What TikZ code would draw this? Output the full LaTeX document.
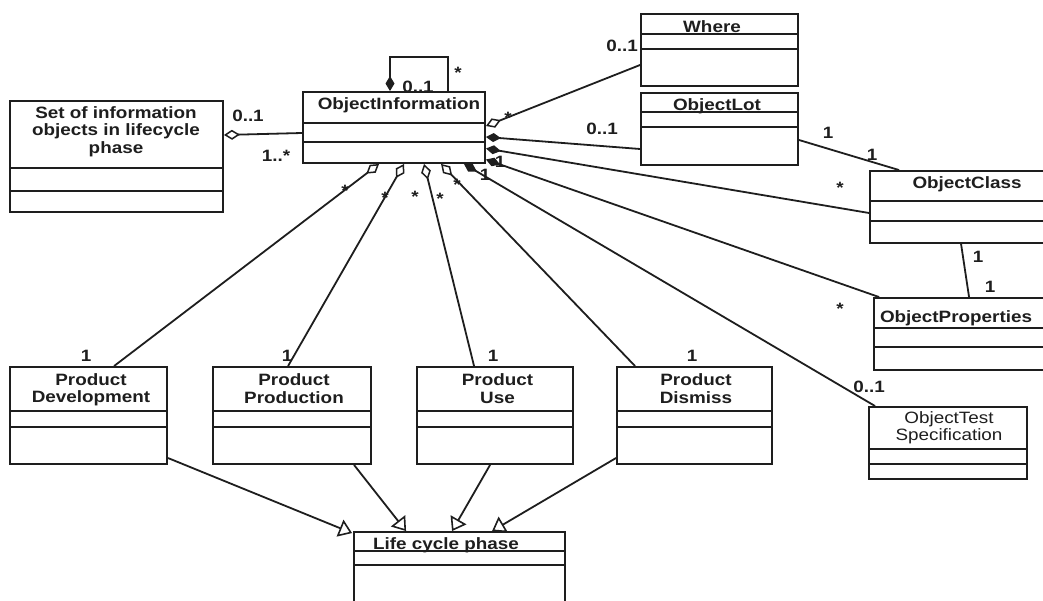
\documentclass[tikz,border=0pt]{standalone}
\usepackage{fontspec}
\setmainfont{Liberation Sans}[FakeStretch=1.15]
\usetikzlibrary{arrows.meta,fit}
\definecolor{ink}{HTML}{1E1E1E}
\newcommand\umlcls[7]{%
  \node[umlbox, fit={(#2,#3)(#4,#5)}] (#1) {};
  \draw[cline] (#2,#6) -- (#4,#6) (#2,#7) -- (#4,#7);
}
\begin{document}
\begin{tikzpicture}[x=1pt,y=-1pt,
  font=\fontsize{16.4}{17.5}\selectfont\bfseries,
  umlbox/.style={draw=ink, line width=1.9pt, inner sep=0pt},
  cline/.style={draw=ink, line width=1.5pt},
  conn/.style={draw=ink, line width=1.8pt},
  lbl/.style={inner sep=0pt, text height=12pt, text depth=0pt, text=ink},
  ttl/.style={inner sep=0pt, align=center, text=ink},
  agg/.style={conn, {Diamond[open, length=16pt, width=10pt, line width=1.5pt]}-},
  comp/.style={conn, {Diamond[length=15pt, width=9pt]}-},
  gen/.style={conn, -{Triangle[open, length=13pt, width=18pt, line width=1.6pt]}}]
\useasboundingbox (0,0) rectangle (1043,601);
\clip (0,0) rectangle (1043,601);
\fill[white] (0,0) rectangle (1043,601);

% classes
\umlcls{oi}{303}{92}{485}{163}{123}{142}
\umlcls{set}{10}{101}{223}{212}{168}{191}
\umlcls{where}{641}{14}{798}{86}{34}{49}
\umlcls{lot}{641}{93}{798}{165}{112}{127}
\umlcls{cls}{870}{171}{1060}{243}{201}{221}
\umlcls{props}{874}{298}{1060}{370}{328}{347}
\umlcls{test}{869}{407}{1027}{479}{449}{464}
\umlcls{dev}{10}{367}{167}{464}{411}{427}
\umlcls{prod}{213}{367}{371}{464}{411}{427}
\umlcls{use}{417}{367}{573}{464}{411}{427}
\umlcls{dis}{617}{367}{772}{464}{411}{427}
\umlcls{lcp}{354}{532}{565}{640}{551}{565}

% titles
\node[lbl] (t-oi) at (399,104) {ObjectInformation};
\node[ttl] (t-set) at (116,131.5) {Set of information\\objects in lifecycle\\phase};
\node[lbl] (t-where) at (712,27) {Where};
\node[lbl] (t-lot) at (717,105) {ObjectLot};
\node[lbl] (t-cls) at (967,183) {ObjectClass};
\node[lbl] (t-props) at (956,317) {ObjectProperties};
\node[ttl, font=\fontsize{16.4}{17.5}\selectfont\mdseries] (t-test) at (949,428) {ObjectTest\\Specification};
\node[ttl] (t-dev) at (91,390) {Product\\Development};
\node[ttl] (t-prod) at (294,388.5) {Product\\Production};
\node[ttl] (t-use) at (497.5,388.5) {Product\\Use};
\node[ttl] (t-dis) at (696,388.5) {Product\\Dismiss};
\node[lbl] (t-lcp) at (446,543) {Life cycle phase};

% associations
\draw[agg] ([yshift=21.5pt]set.east) -- ([yshift=-5.5pt]oi.west);
\draw[comp] ([xshift=-4pt]oi.north) -- ++(0,-34) -| ([xshift=54pt]oi.north);
\draw[agg] ([yshift=1.5pt]oi.east) -- ([yshift=-15pt]where.west);
\draw[comp] ([yshift=-9.5pt]oi.east) -- ([yshift=-20pt]lot.west);
\draw[comp] ([yshift=-21pt]oi.east) -- ([yshift=-6pt]cls.west);
\draw[comp] ([yshift=-32pt]oi.east) -- ([xshift=6pt]props.north west);
\draw[comp] ([xshift=-22pt]oi.south east) -- ([xshift=7pt]test.north west);
\draw[conn] ([yshift=-11pt]lot.east) -- ([xshift=30pt]cls.north west);
\draw[conn] ([xshift=92pt]cls.south west) -- ([xshift=96pt]props.north west);
\draw[agg] ([xshift=77pt]oi.south west) -- ([xshift=105pt]dev.north west);
\draw[agg] ([xshift=102pt]oi.south west) -- ([xshift=76pt]prod.north west);
\draw[agg] ([xshift=122pt]oi.south west) -- ([xshift=58pt]use.north west);
\draw[agg] ([xshift=139pt]oi.south west) -- ([xshift=19pt]dis.north west);

% generalizations
\draw[gen] ([yshift=-42.5pt]dev.east) -- ([xshift=-1pt,yshift=-2pt]lcp.north west);
\draw[gen] ([xshift=142pt]prod.south west) -- ([xshift=53pt]lcp.north west);
\draw[gen] ([xshift=74pt]use.south west) -- ([xshift=99pt]lcp.north west);
\draw[gen] ([yshift=-42.5pt]dis.west) -- ([xshift=139pt]lcp.north west);

% multiplicities
\node[lbl] (m1) at (248,116) {0..1};
\node[lbl] (m2) at (276,156) {1..*};
\node[lbl] (m3) at (418,87) {0..1};
\node[lbl] (m4) at (458,73) {*};
\node[lbl] (m5) at (508,118) {*};
\node[lbl] (m6) at (622,46) {0..1};
\node[lbl] (m7) at (602,129) {0..1};
\node[lbl] (m8) at (828,133) {1};
\node[lbl] (m9) at (872,155) {1};
\node[lbl] (m10) at (840,188) {*};
\node[lbl] (m11) at (978,257) {1};
\node[lbl] (m12) at (990,287) {1};
\node[lbl] (m13) at (840,308) {*};
\node[lbl] (m14) at (869,386) {0..1};
\node[lbl] (m15) at (500,162) {1};
\node[lbl] (m16) at (485,175) {1};
\node[lbl] (m17) at (345,191) {*};
\node[lbl] (m18) at (385,198) {*};
\node[lbl] (m19) at (415,197) {*};
\node[lbl] (m20) at (440,199) {*};
\node[lbl] (m21) at (457,185) {*};
\node[lbl] (m22) at (86,355) {1};
\node[lbl] (m23) at (287,355) {1};
\node[lbl] (m24) at (493,355) {1};
\node[lbl] (m25) at (692,355) {1};
\end{tikzpicture}
\end{document}
